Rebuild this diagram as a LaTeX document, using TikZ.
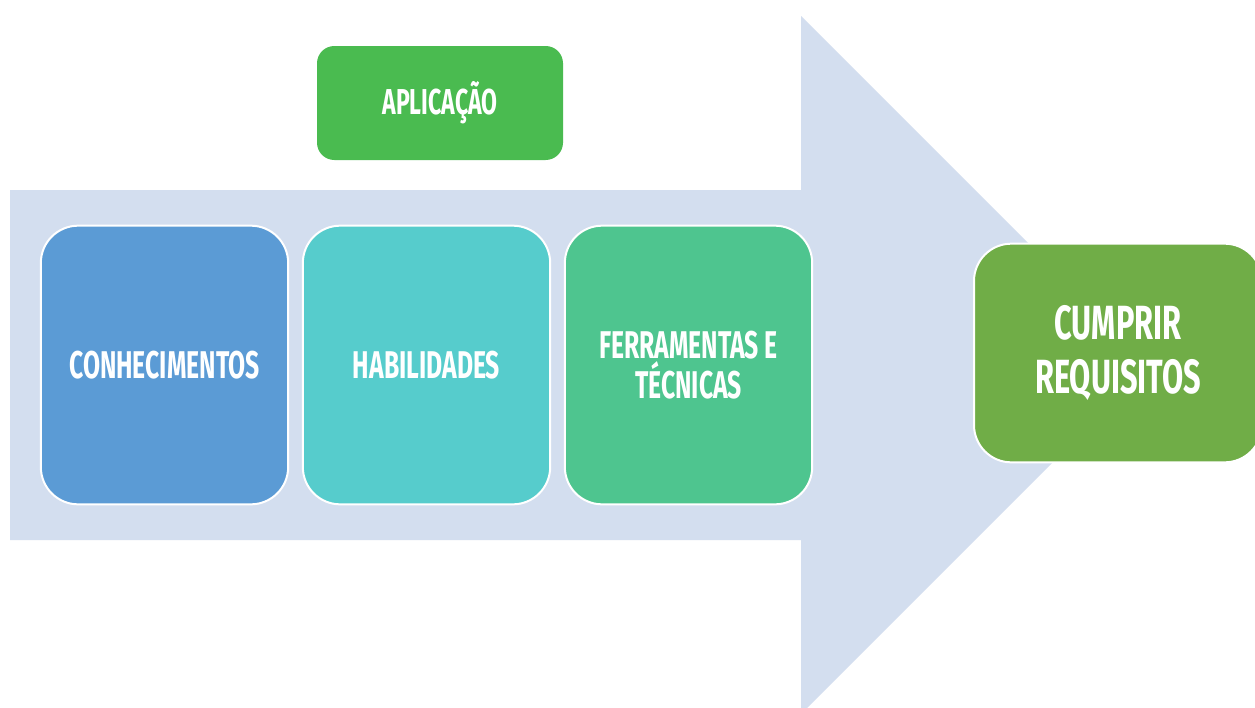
\documentclass[tikz,border=0pt]{standalone}
\usepackage{fontspec}
\setmainfont{Fira Sans}[FakeStretch=0.64]
\definecolor{arrowc}{HTML}{D3DEEF}
\definecolor{c1}{HTML}{5B9BD5}
\definecolor{c2}{HTML}{56CCCC}
\definecolor{c3}{HTML}{4EC58F}
\definecolor{c4}{HTML}{4ABB50}
\definecolor{c5}{HTML}{70AD47}
\tikzset{
  card/.style={draw=white, line width=1.5pt, rounded corners=28pt, text=white,
    minimum width=185.5pt, minimum height=209pt, align=center, inner sep=0pt,
    font=\bfseries\fontsize{29}{30}\selectfont},
}
\begin{document}
\begin{tikzpicture}[x=0.75pt,y=-0.75pt]
\clip (0,0) rectangle (1255,707);
\fill[white] (0,0) rectangle (1255,707);
\fill[arrowc] (10,190) -- (801,190) -- (801,16) -- (1150,365) -- (801,714) -- (801,540) -- (10,540) -- cycle;
\node[card, fill=c1] (con) at (164.5,365) {CONHECIMENTOS};
\node[card, fill=c2] (hab) at (426.5,365) {HABILIDADES};
\node[card, fill=c3] (fer) at (688.5,365) {FERRAMENTAS E\\T\'ECNICAS};
\node[card, fill=c4, draw=none, rounded corners=13pt, minimum width=184.5pt, minimum height=85.5pt,
  font=\bfseries\fontsize{27}{28}\selectfont] (apl) at (440,103) {APLICAÇÃO};
\node[card, fill=c5, rounded corners=28pt, minimum width=216pt, minimum height=164pt,
  font=\bfseries\fontsize{36}{41}\selectfont] (cum) at (1118,353) {CUMPRIR\\REQUISITOS};
\end{tikzpicture}
\end{document}
